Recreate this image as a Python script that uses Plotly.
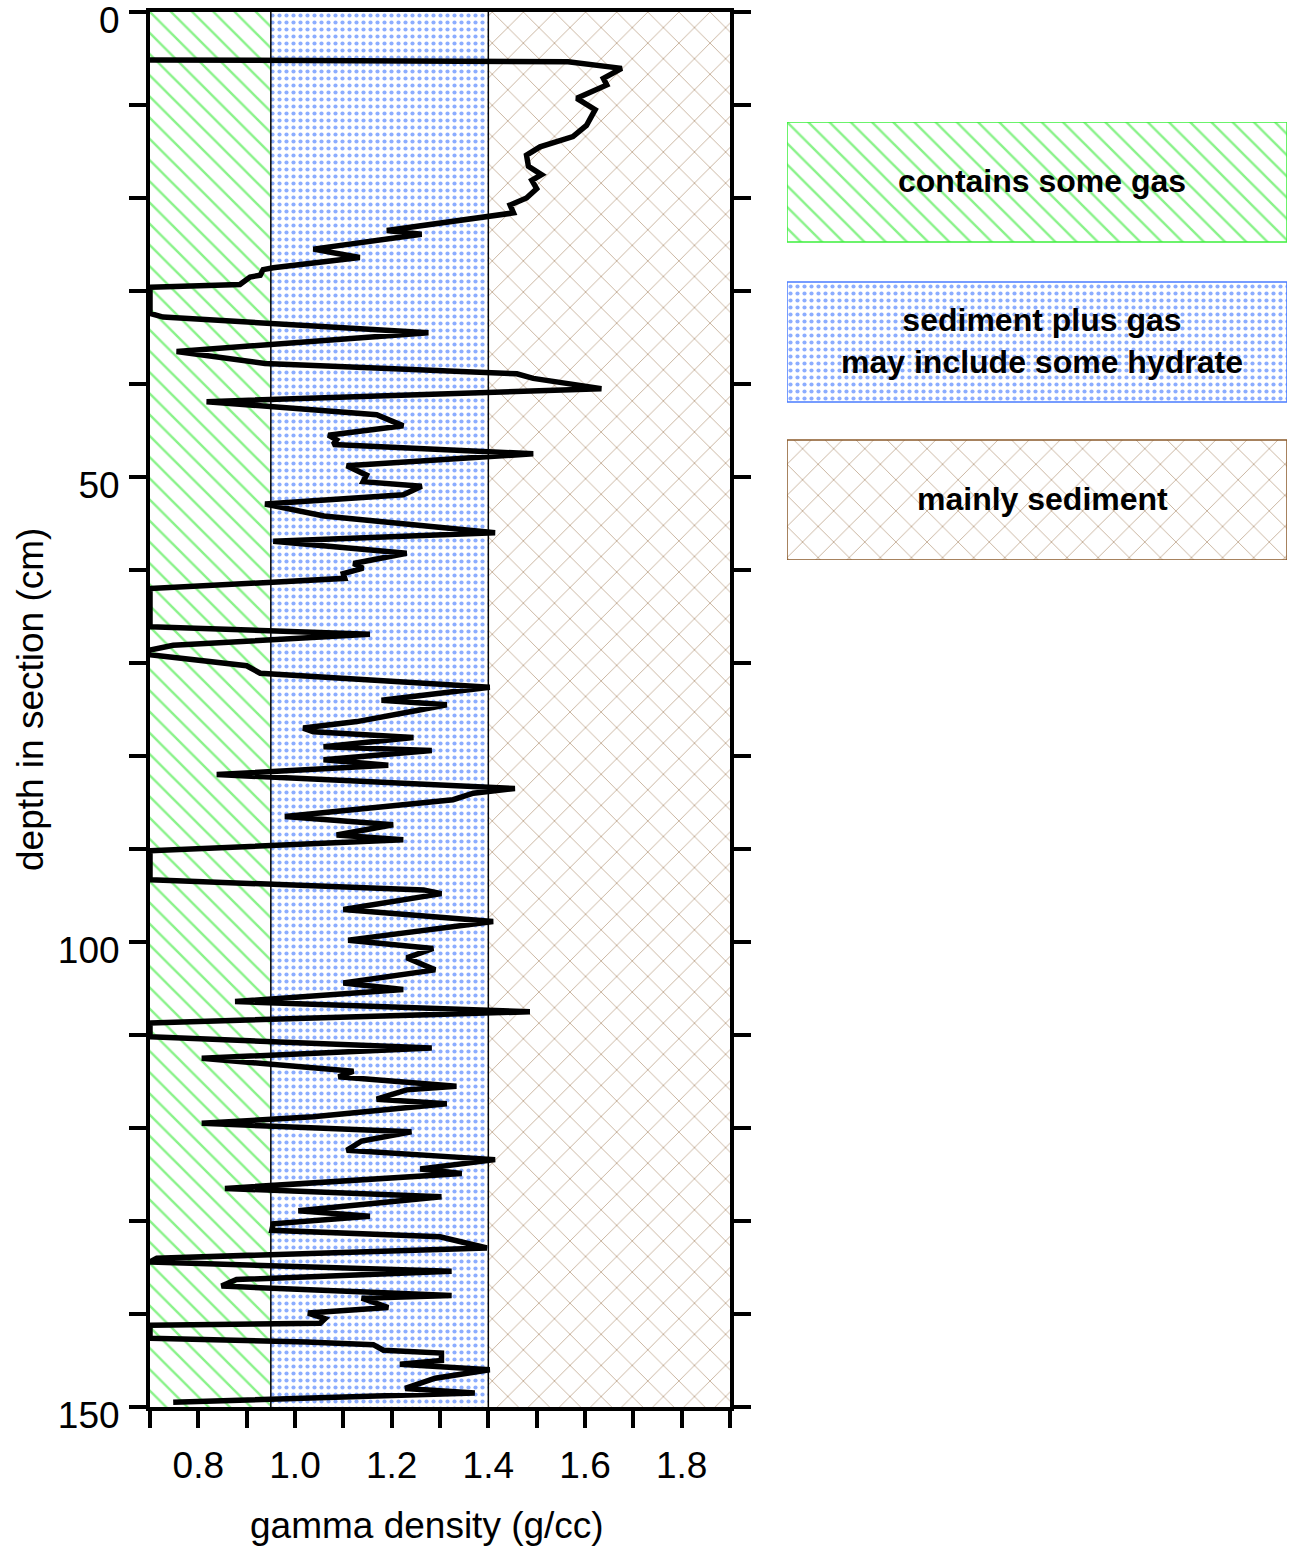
import plotly.graph_objects as go

# Gamma density log down the core section
density = [
    0.70, 1.565, 1.676, 1.638, 1.645, 1.583, 1.621, 1.603, 1.575, 1.507,
    1.479, 1.483, 1.510, 1.490, 1.500, 1.479, 1.445, 1.452, 1.190, 1.262,
    1.038, 1.134, 0.955, 0.934, 0.928, 0.907, 0.886, 0.70, 0.70, 0.727,
    1.276, 0.755, 0.938, 1.459, 1.493, 1.634, 0.817, 1.169, 1.224, 1.069,
    1.086, 1.079, 1.493, 1.107, 1.148, 1.141, 1.262, 1.224, 0.938, 1.060,
    1.414, 0.955, 1.231, 1.121, 1.141, 1.100, 1.103, 0.70, 0.70, 1.155,
    0.748, 0.70, 0.70, 0.900, 0.928, 1.403, 1.179, 1.314, 1.252, 1.128,
    1.017, 1.038, 1.245, 1.059, 1.283, 1.059, 1.193, 0.838, 1.455, 1.369,
    1.327, 0.979, 1.203, 1.086, 1.224, 0.70, 0.70, 1.266, 1.303, 1.100,
    1.410, 1.110, 1.286, 1.231, 1.290, 1.100, 1.224, 0.876, 1.486, 0.70,
    0.70, 1.283, 0.807, 1.121, 1.090, 1.334, 1.231, 1.169, 1.314, 1.038,
    0.807, 1.241, 1.138, 1.107, 1.414, 1.259, 1.345, 0.855, 1.303, 1.007,
    1.155, 0.955, 0.952, 1.300, 1.397, 0.714, 0.70, 1.324, 0.879, 0.848,
    1.324, 1.138, 1.193, 1.027, 1.062, 1.052, 0.70, 0.70, 1.024, 1.162,
    1.183, 1.303, 1.303, 1.217, 1.403, 1.290, 1.228, 1.372, 0.748,
]
depth = [
    5.15, 5.35, 6.06, 7.13, 7.85, 9.28, 10.5, 12.2, 13.4, 14.5,
    15.4, 16.6, 17.5, 18.1, 19.0, 20.0, 20.75, 21.6, 23.5, 23.9,
    25.5, 26.4, 27.5, 27.7, 28.3, 28.5, 29.3, 29.6, 32.4, 32.8,
    34.5, 36.5, 37.8, 38.9, 39.4, 40.5, 41.9, 43.3, 44.5, 45.5,
    46.0, 46.5, 47.5, 48.8, 49.8, 50.5, 51.0, 51.9, 52.9, 54.2,
    56.0, 56.9, 58.2, 59.3, 59.8, 60.4, 60.9, 62.0, 66.1, 66.9,
    68.1, 68.6, 69.1, 70.3, 71.1, 72.6, 74.0, 74.5, 75.1, 76.3,
    77.0, 77.4, 78.0, 79.0, 79.4, 80.4, 81.0, 82.0, 83.5, 84.0,
    84.7, 86.5, 87.4, 88.5, 89.0, 90.2, 93.3, 94.4, 94.8, 96.5,
    97.8, 99.8, 100.7, 101.7, 103.0, 104.4, 105.1, 106.4, 107.5, 108.7,
    110.2, 111.4, 112.5, 113.9, 114.5, 115.5, 115.9, 116.9, 117.4, 118.8,
    119.5, 120.4, 121.4, 122.4, 123.4, 124.4, 124.9, 126.5, 127.4, 128.9,
    129.5, 130.3, 131.0, 131.7, 132.9, 134.0, 134.4, 135.4, 136.3, 137.0,
    138.0, 138.3, 139.3, 139.9, 140.5, 141.0, 141.2, 142.6, 143.0, 143.3,
    143.9, 144.2, 145.0, 145.4, 146.0, 146.9, 148.0, 148.5, 149.5,
]

# Interpretation zones (density bounds) and their key labels
zone_edges = [0.70, 0.95, 1.40, 1.90]
zone_labels = [
    "contains some gas",
    "sediment plus gas<br>may include some hydrate",
    "mainly sediment",
]
depth_range = [0, 150]

FONT = "Liberation Sans, Arial, Helvetica, sans-serif"
zone_styles = [
    dict(shape="\\", fgcolor="#14e614", size=15, solidity=0.16, border="#3cf03c"),
    dict(shape=".", fgcolor="#1a5cff", size=7, solidity=0.28, border="#4a7cff"),
    dict(shape="x", fgcolor="#7a4510", size=22, solidity=0.07, border="#8a5a2a"),
]

fig = go.Figure()

# Shaded zones behind the log
for i, st in enumerate(zone_styles):
    x0, x1 = zone_edges[i], zone_edges[i + 1]
    fig.add_trace(go.Scatter(
        x=[x0, x1, x1, x0, x0],
        y=[depth_range[0], depth_range[0], depth_range[1], depth_range[1], depth_range[0]],
        mode="lines", fill="toself", fillcolor="white",
        fillpattern=dict(shape=st["shape"], fgcolor=st["fgcolor"], bgcolor="white",
                         size=st["size"], solidity=st["solidity"]),
        line=dict(width=0), hoverinfo="skip", xaxis="x", yaxis="y",
    ))

# Zone boundary lines
for xb in zone_edges[1:-1]:
    fig.add_shape(type="line", xref="x", yref="y", x0=xb, x1=xb,
                  y0=depth_range[0], y1=depth_range[1],
                  line=dict(color="black", width=1.5))

# Density log
fig.add_trace(go.Scatter(
    x=density, y=depth, mode="lines",
    line=dict(color="black", width=5.5, simplify=False),
    xaxis="x", yaxis="y",
))

# Key boxes on the right (y2 measured in pixels from the top of the key)
box_tops = [0, 160, 318]
box_h = 120
for i, st in enumerate(zone_styles):
    t, b = box_tops[i], box_tops[i] + box_h
    fig.add_trace(go.Scatter(
        x=[0, 1, 1, 0, 0], y=[t, t, b, b, t],
        mode="lines", fill="toself", fillcolor="white",
        fillpattern=dict(shape=st["shape"], fgcolor=st["fgcolor"], bgcolor="white",
                         size=st["size"], solidity=st["solidity"]),
        line=dict(color=st["border"], width=1.5), hoverinfo="skip",
        xaxis="x2", yaxis="y2",
    ))
    fig.add_annotation(x=0.51, y=(t + b) / 2 - 1, xref="x2", yref="y2",
                       text="<b>" + zone_labels[i] + "</b>",
                       showarrow=False, xanchor="center", yanchor="middle",
                       align="center",
                       font=dict(family=FONT, size=32, color="black"))

W, H = 1297, 1549
ML, MR, MT, MB = 150, 10, 12, 142
pw = W - ML - MR
ph = H - MT - MB
plot_right = 730
key_left, key_right = 787, 1287
key_top, key_bottom = 122, 560

tick_style = dict(ticks="outside", ticklen=17, tickwidth=4, tickcolor="black")

fig.update_layout(
    width=W, height=H,
    margin=dict(l=ML, r=MR, t=MT, b=MB, autoexpand=False),
    paper_bgcolor="white", plot_bgcolor="white",
    showlegend=False,
    font=dict(family=FONT, color="black"),
    xaxis=dict(
        domain=[0, (plot_right - ML) / pw], range=[0.7, 1.9], anchor="y",
        showgrid=False, zeroline=False, automargin=False,
        showline=True, linewidth=4, linecolor="black", mirror=True,
        tick0=0.8, dtick=0.2, tickformat=".1f",
        tickfont=dict(family=FONT, size=37, color="black"),
        ticklabelstandoff=6,
        minor=dict(dtick=0.1, showgrid=False, **tick_style),
        **tick_style,
    ),
    yaxis=dict(
        domain=[0, 1], range=[150, 0], anchor="x",
        showgrid=False, zeroline=False, automargin=False,
        showline=True, linewidth=4, linecolor="black", mirror="ticks",
        tick0=0, dtick=50,
        tickfont=dict(family=FONT, size=37, color="black"),
        ticklabelstandoff=2, ticklabeloverflow="allow", ticklabelshift=-8,
        minor=dict(dtick=10, showgrid=False, **tick_style),
        **tick_style,
    ),
    xaxis2=dict(
        domain=[(key_left - ML) / pw, (key_right - ML) / pw], range=[0, 1],
        anchor="y2", visible=False, fixedrange=True,
    ),
    yaxis2=dict(
        domain=[(H - MB - key_bottom) / ph, (H - MB - key_top) / ph],
        range=[key_bottom - key_top, 0], anchor="x2", visible=False, fixedrange=True,
    ),
)

# Axis titles
fig.add_annotation(text="gamma density (g/cc)", xref="paper", yref="paper",
                   x=(427 - ML) / pw, y=-(1525 - (H - MB)) / ph,
                   showarrow=False, xanchor="center", yanchor="middle",
                   font=dict(family=FONT, size=37, color="black"))
fig.add_annotation(text="depth in section (cm)", xref="paper", yref="paper",
                   x=(30 - ML) / pw, y=(H - MB - 700) / ph, textangle=-90,
                   showarrow=False, xanchor="center", yanchor="middle",
                   font=dict(family=FONT, size=37, color="black"))

fig.write_html("out.html")
